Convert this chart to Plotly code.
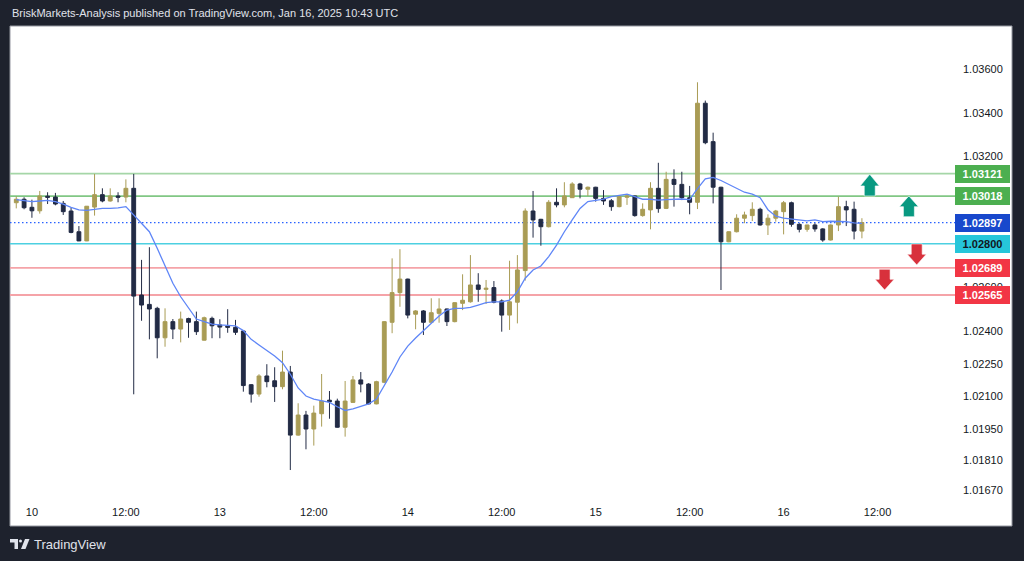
import plotly.graph_objects as go

# ---------------- data (hourly candles) ----------------
opens = [
    1.02988, 1.03004, 1.02967, 1.02951, 1.03018, 1.03014, 1.02985, 1.02950, 1.02855, 1.02813,
    1.02968, 1.03025, 1.02996, 1.03019, 1.03014, 1.03054, 1.02565, 1.02522, 1.02504, 1.02369,
    1.02443, 1.02409, 1.02457, 1.02443, 1.02358, 1.02458, 1.02428, 1.02423, 1.02417, 1.02400,
    1.02154, 1.02111, 1.02194, 1.02172, 1.02145, 1.02212, 1.01923, 1.02015, 1.01951, 1.02021,
    1.02083, 1.02079, 1.01959, 1.02073, 1.02176, 1.02157, 1.02066, 1.02165, 1.02440, 1.02576,
    1.02638, 1.02477, 1.02492, 1.02440, 1.02481, 1.02501, 1.02443, 1.02527, 1.02534, 1.02611,
    1.02591, 1.02599, 1.02538, 1.02473, 1.02532, 1.02677, 1.02950, 1.02912, 1.02878, 1.02990,
    1.02978, 1.03011, 1.03074, 1.03050, 1.03059, 1.03008, 1.02997, 1.02970, 1.03013, 1.03019,
    1.02929, 1.02955, 1.03054, 1.02962, 1.03095, 1.03072, 1.03011, 1.02990, 1.03444, 1.03268,
    1.03059, 1.02809, 1.02855, 1.02917, 1.02929, 1.02958, 1.02886, 1.02917, 1.02947, 1.02988,
    1.02889, 1.02866, 1.02886, 1.02868, 1.02817, 1.02886, 1.02970, 1.02958, 1.02858,
]
highs = [
    1.03017, 1.03013, 1.03002, 1.03042, 1.03036, 1.03033, 1.02996, 1.02965, 1.02881, 1.02973,
    1.03120, 1.03054, 1.03054, 1.03036, 1.03095, 1.03120, 1.02726, 1.02784, 1.02511, 1.02504,
    1.02455, 1.02489, 1.02461, 1.02489, 1.02466, 1.02466, 1.02454, 1.02500, 1.02451, 1.02402,
    1.02157, 1.02202, 1.02248, 1.02234, 1.02310, 1.02240, 1.02069, 1.02034, 1.02058, 1.02203,
    1.02125, 1.02090, 1.02171, 1.02194, 1.02212, 1.02161, 1.02172, 1.02445, 1.02733, 1.02775,
    1.02640, 1.02496, 1.02496, 1.02550, 1.02550, 1.02503, 1.02531, 1.02660, 1.02748, 1.02665,
    1.02634, 1.02629, 1.02545, 1.02722, 1.02748, 1.02962, 1.03042, 1.02914, 1.03000, 1.03054,
    1.03082, 1.03082, 1.03079, 1.03062, 1.03061, 1.03046, 1.03005, 1.03019, 1.03028, 1.03021,
    1.02985, 1.03082, 1.03171, 1.03130, 1.03141, 1.03130, 1.03065, 1.03540, 1.03456, 1.03309,
    1.03061, 1.02857, 1.02935, 1.02947, 1.02990, 1.02965, 1.02935, 1.02955, 1.02996, 1.02993,
    1.02894, 1.02887, 1.02894, 1.02871, 1.02888, 1.03016, 1.02997, 1.02993, 1.02917,
]
lows = [
    1.02962, 1.02958, 1.02919, 1.02938, 1.02982, 1.02976, 1.02932, 1.02848, 1.02812, 1.02812,
    1.02929, 1.02990, 1.02993, 1.02990, 1.02990, 1.02110, 1.02447, 1.02362, 1.02275, 1.02328,
    1.02363, 1.02348, 1.02369, 1.02382, 1.02357, 1.02367, 1.02367, 1.02392, 1.02382, 1.02122,
    1.02072, 1.02099, 1.02142, 1.02075, 1.02133, 1.01763, 1.01920, 1.01858, 1.01875, 1.01962,
    1.01998, 1.01957, 1.01916, 1.02072, 1.02119, 1.02064, 1.02064, 1.02161, 1.02390, 1.02511,
    1.02458, 1.02408, 1.02382, 1.02438, 1.02438, 1.02423, 1.02440, 1.02496, 1.02530, 1.02534,
    1.02524, 1.02527, 1.02397, 1.02405, 1.02435, 1.02631, 1.02828, 1.02791, 1.02875, 1.02967,
    1.02967, 1.03010, 1.03008, 1.03019, 1.02993, 1.02978, 1.02951, 1.02967, 1.02978, 1.02924,
    1.02924, 1.02866, 1.02942, 1.02959, 1.02970, 1.03000, 1.02935, 1.02959, 1.03256, 1.02985,
    1.02588, 1.02807, 1.02852, 1.02894, 1.02904, 1.02883, 1.02840, 1.02901, 1.02843, 1.02878,
    1.02852, 1.02855, 1.02855, 1.02809, 1.02815, 1.02858, 1.02881, 1.02820, 1.02825,
]
closes = [
    1.03004, 1.02965, 1.02951, 1.03019, 1.03013, 1.02982, 1.02947, 1.02852, 1.02813, 1.02972,
    1.03025, 1.02996, 1.03019, 1.03013, 1.03054, 1.02560, 1.02519, 1.02501, 1.02369, 1.02443,
    1.02409, 1.02455, 1.02440, 1.02397, 1.02461, 1.02424, 1.02418, 1.02417, 1.02394, 1.02150,
    1.02111, 1.02194, 1.02168, 1.02145, 1.02212, 1.01923, 1.02015, 1.01951, 1.02024, 1.02079,
    1.02076, 1.01959, 1.02079, 1.02176, 1.02157, 1.02066, 1.02168, 1.02443, 1.02576, 1.02638,
    1.02473, 1.02492, 1.02440, 1.02484, 1.02501, 1.02443, 1.02530, 1.02541, 1.02611, 1.02591,
    1.02596, 1.02532, 1.02473, 1.02534, 1.02680, 1.02950, 1.02909, 1.02878, 1.02990, 1.02978,
    1.03019, 1.03074, 1.03050, 1.03059, 1.03008, 1.02996, 1.02970, 1.03016, 1.03019, 1.02929,
    1.02958, 1.03054, 1.02961, 1.03095, 1.03072, 1.03011, 1.02990, 1.03444, 1.03263, 1.03059,
    1.02809, 1.02855, 1.02917, 1.02932, 1.02958, 1.02886, 1.02917, 1.02950, 1.02988, 1.02889,
    1.02866, 1.02886, 1.02868, 1.02817, 1.02886, 1.02970, 1.02955, 1.02858, 1.02897,
]
# moving-average line as drawn on the chart
ma_line = [
    1.03002, 1.02996, 1.02993, 1.02996, 1.02999, 1.02993, 1.02982, 1.02967, 1.02955, 1.02953,
    1.02959, 1.02962, 1.02962, 1.02964, 1.02970, 1.02932, 1.02898, 1.02855, 1.02779, 1.02695,
    1.02619, 1.02557, 1.02504, 1.02455, 1.02443, 1.02432, 1.02428, 1.02426, 1.02424, 1.02402,
    1.02362, 1.02336, 1.02310, 1.02286, 1.02255, 1.02202, 1.02139, 1.02102, 1.02088, 1.02082,
    1.02073, 1.02053, 1.02036, 1.02043, 1.02056, 1.02066, 1.02088, 1.02148, 1.02212, 1.02281,
    1.02331, 1.02368, 1.02402, 1.02435, 1.02469, 1.02496, 1.02504, 1.02504, 1.02508, 1.02519,
    1.02530, 1.02534, 1.02534, 1.02542, 1.02580, 1.02642, 1.02680, 1.02698, 1.02741, 1.02794,
    1.02855, 1.02909, 1.02962, 1.02993, 1.03000, 1.03004, 1.03016, 1.03023, 1.03027, 1.03016,
    1.03004, 1.03004, 1.03000, 1.03002, 1.03005, 1.03005, 1.03002, 1.03053, 1.03097, 1.03104,
    1.03090, 1.03072, 1.03054, 1.03036, 1.03027, 1.03011, 1.02956, 1.02926, 1.02917, 1.02914,
    1.02911, 1.02905, 1.02909, 1.02901, 1.02903, 1.02903, 1.02901, 1.02896, 1.02893,
]
bar_index = list(range(len(closes)))

time_tick_pos = [2, 14, 26, 38, 50, 62, 74, 86, 98, 110]
time_tick_text = ["10", "12:00", "13", "12:00", "14", "12:00", "15", "12:00", "16", "12:00"]

price_tick_vals = [1.036, 1.034, 1.032, 1.026, 1.024, 1.0225, 1.021, 1.0195, 1.0181, 1.0167]
price_tick_text = ["1.03600", "1.03400", "1.03200", "1.02600", "1.02400", "1.02250",
                   "1.02100", "1.01950", "1.01810", "1.01670"]

levels = [1.03121, 1.03018, 1.02897, 1.02800, 1.02689, 1.02565]
level_text = ["1.03121", "1.03018", "1.02897", "1.02800", "1.02689", "1.02565"]
level_line_color = ["#a5d6a7", "#81c784", "#2962ff", "#4dd0e1", "#f5a3a8", "#f5a3a8"]
level_line_dash = ["solid", "solid", "1.5px,2.5px", "solid", "solid", "solid"]
level_line_width = [1.8, 1.8, 1.2, 1.4, 1.8, 1.8]
level_label_bg = ["#4caf50", "#4caf50", "#1848cc", "#26c6da", "#f23645", "#f23645"]
level_label_fg = ["#ffffff", "#ffffff", "#ffffff", "#131722", "#ffffff", "#ffffff"]

# arrows: centre bar position, tip price, neck price, tail price
arrow_x = [109.0, 114.0, 115.0, 110.9]
arrow_tip = [1.03118, 1.03019, 1.02703, 1.02588]
arrow_neck = [1.03065, 1.02970, 1.02752, 1.02637]
arrow_tail = [1.03019, 1.02924, 1.02799, 1.02683]
arrow_color = ["#089981", "#089981", "#d8313c", "#d8313c"]

# ---------------- layout geometry ----------------
W, H = 1024, 561
PL, PR, PT, PB = 10, 950, 26, 500  # plot area in pixels


def px_x(px):
    return (px - PL) / (PR - PL)


def px_y(py):
    return (PB - py) / (PB - PT)


X_RANGE = [-0.8, 119.25]
Y_RANGE = [1.016256, 1.037979]

GOLD = "#a99c55"
NAVY = "#222b45"

fig = go.Figure()
fig.add_trace(go.Candlestick(
    x=bar_index, open=opens, high=highs, low=lows, close=closes,
    increasing=dict(line=dict(color=GOLD, width=1), fillcolor=GOLD),
    decreasing=dict(line=dict(color=NAVY, width=1), fillcolor=NAVY),
    whiskerwidth=0, hoverinfo="skip", showlegend=False,
))
fig.add_trace(go.Scatter(
    x=bar_index, y=ma_line, mode="lines",
    line=dict(color="#5f86f7", width=1.3), hoverinfo="skip", showlegend=False,
))

shapes = []
# white chart panel
shapes.append(dict(type="rect", xref="paper", yref="paper",
                   x0=0, x1=px_x(1012), y0=px_y(526), y1=1,
                   fillcolor="#ffffff", line=dict(color="#9598a1", width=1), layer="below"))
# horizontal levels
for lv, col, dash, lw in zip(levels, level_line_color, level_line_dash, level_line_width):
    shapes.append(dict(type="line", xref="paper", yref="y", x0=0, x1=px_x(956),
                       y0=lv, y1=lv, line=dict(color=col, width=lw, dash=dash), layer="below"))
# arrows
HEAD = 1.22
STEM = 0.70
for ax_, tip, neck, tail, col in zip(arrow_x, arrow_tip, arrow_neck, arrow_tail, arrow_color):
    path = (f"M {ax_ - STEM},{tail} L {ax_ - STEM},{neck} L {ax_ - HEAD},{neck} "
            f"L {ax_},{tip} L {ax_ + HEAD},{neck} L {ax_ + STEM},{neck} L {ax_ + STEM},{tail} Z")
    shapes.append(dict(type="path", xref="x", yref="y", path=path,
                       fillcolor=col, line=dict(color="#ffffff", width=0.6)))

# TradingView logo glyph (bottom-left)
shapes.append(dict(type="path", xref="paper", yref="paper",
                   path=(f"M {px_x(10)},{px_y(539)} L {px_x(18)},{px_y(539)} L {px_x(18)},{px_y(549)} "
                         f"L {px_x(14.5)},{px_y(549)} L {px_x(14.5)},{px_y(542.5)} L {px_x(10)},{px_y(542.5)} Z"),
                   fillcolor="#e0e3eb", line=dict(width=0)))
shapes.append(dict(type="circle", xref="paper", yref="paper",
                   x0=px_x(19), x1=px_x(22), y0=px_y(542.5), y1=px_y(539.5),
                   fillcolor="#e0e3eb", line=dict(width=0)))
shapes.append(dict(type="path", xref="paper", yref="paper",
                   path=(f"M {px_x(25)},{px_y(539)} L {px_x(29.5)},{px_y(539)} L {px_x(25.5)},{px_y(549)} "
                         f"L {px_x(21)},{px_y(549)} Z"),
                   fillcolor="#e0e3eb", line=dict(width=0)))

annotations = []
for lv, txt, bg, fg in zip(levels, level_text, level_label_bg, level_label_fg):
    annotations.append(dict(xref="paper", yref="y", x=px_x(982), y=lv,
                            xanchor="center", yanchor="middle", showarrow=False,
                            text=f"<b>{txt}</b>", bgcolor=bg, bordercolor=bg,
                            borderpad=1.5, width=50, height=13,
                            font=dict(family="Liberation Sans, Arial, sans-serif", size=11, color=fg)))
annotations.append(dict(xref="paper", yref="paper", x=px_x(10), y=px_y(13),
                        xanchor="left", yanchor="middle", showarrow=False,
                        text="BriskMarkets-Analysis published on TradingView.com, Jan 16, 2025 10:43 UTC",
                        font=dict(family="Liberation Sans, Arial, sans-serif", size=11, color="#e0e3eb")))
annotations.append(dict(xref="paper", yref="paper", x=px_x(32), y=px_y(544),
                        xanchor="left", yanchor="middle", showarrow=False,
                        text="TradingView",
                        font=dict(family="Liberation Sans Narrow, Liberation Sans, Arial, sans-serif",
                                  size=13, color="#e0e3eb")))

fig.update_layout(
    width=W, height=H,
    margin=dict(l=PL, r=W - PR, t=PT, b=H - PB),
    paper_bgcolor="#1e222d", plot_bgcolor="#ffffff",
    shapes=shapes, annotations=annotations,
    showlegend=False, hovermode=False,
    xaxis=dict(range=X_RANGE, tickmode="array", tickvals=time_tick_pos, ticktext=time_tick_text,
               showgrid=False, zeroline=False, showline=False, ticks="",
               tickfont=dict(family="Liberation Sans, Arial, sans-serif", size=11, color="#131722"),
               rangeslider=dict(visible=False), fixedrange=True, ticklabelstandoff=4),
    yaxis=dict(range=Y_RANGE, side="right", tickmode="array", tickvals=price_tick_vals,
               ticktext=price_tick_text, showgrid=False, zeroline=False, showline=False, ticks="",
               tickfont=dict(family="Liberation Sans, Arial, sans-serif", size=11, color="#131722"),
               fixedrange=True, ticklabelstandoff=12),
)

fig.write_html(
    "out.html",
    config={"displayModeBar": False},
    post_script="document.body.style.margin='0';document.body.style.padding='0';"
                "document.body.style.background='#1e222d';",
)
